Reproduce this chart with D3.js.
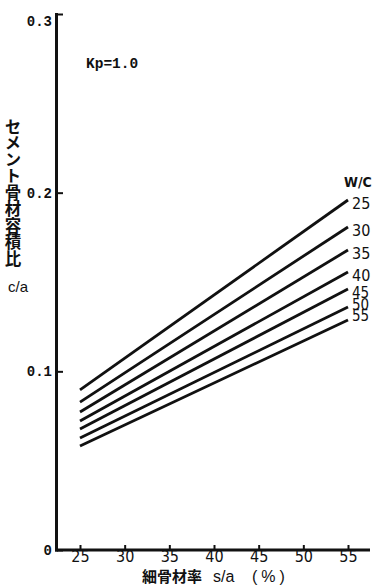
<!DOCTYPE html>
<html>
<head>
<meta charset="utf-8">
<script src="https://cdn.jsdelivr.net/npm/d3@7"></script>
<style>
  html, body { margin: 0; padding: 0; background: #fff; }
  svg { display: block; }
  .num { font-family: "Liberation Sans Narrow", "DejaVu Sans Condensed", "Liberation Sans", sans-serif; }
  .mono { font-family: "Liberation Mono", "DejaVu Sans Mono", monospace; }
  .sans { font-family: "Liberation Sans", Arial, sans-serif; }
  .jp { font-family: "Noto Sans CJK JP", sans-serif; font-weight: 700; }
</style>
</head>
<body>
<svg id="chart" width="372" height="585"></svg>
<script>
// fine aggregate ratio s/a (%) -- x values of each line
const saValues = [25, 55];
// W/C series (labels at right end)
const wcLevels = [25, 30, 35, 40, 45, 50, 55];
// c/a read at s/a = 25 and s/a = 55
const caAt25 = [0.0896, 0.0828, 0.0772, 0.0722, 0.0677, 0.0627, 0.0582];
const caAt55 = [0.1959, 0.1808, 0.1679, 0.1556, 0.1461, 0.1360, 0.1287];
// axis ticks
const xTicks = [25, 30, 35, 40, 45, 50, 55];
const yTicks = [0, 0.1, 0.2, 0.3];

const svg = d3.select('#chart');
const ink = '#111';

const x = d3.scaleLinear().domain([25, 55]).range([80, 348]);
const y = d3.scaleLinear().domain([0, 0.3]).range([550, 14]);

// axis lines (thick, like the print)
svg.append('line')
  .attr('x1', 56.5).attr('x2', 56.5).attr('y1', 13).attr('y2', 551.5)
  .attr('stroke', ink).attr('stroke-width', 3);
svg.append('line')
  .attr('x1', 55).attr('x2', 370).attr('y1', 550).attr('y2', 550)
  .attr('stroke', ink).attr('stroke-width', 3);

// y axis: ticks pointing inward, labels left
const yAxis = svg.append('g')
  .attr('transform', 'translate(57,0)')
  .call(d3.axisLeft(y).tickValues(yTicks).tickSizeInner(-6).tickSizeOuter(0).tickPadding(5)
    .tickFormat(d => d === 0 ? '0' : d3.format('.1f')(d)));
yAxis.select('.domain').remove();
yAxis.selectAll('.tick line').attr('stroke', ink).attr('stroke-width', 2);
yAxis.selectAll('.tick text')
  .attr('class', 'mono').attr('fill', ink)
  .style('font-size', '14px').style('font-weight', 700);
yAxis.selectAll('.tick').filter(d => d === 0.3).select('text').attr('dy', '0.85em');

// x axis: small upward ticks, labels below
const xAxis = svg.append('g')
  .attr('transform', 'translate(0,550)')
  .call(d3.axisBottom(x).tickValues(xTicks).tickSizeInner(-5).tickSizeOuter(0).tickPadding(1));
xAxis.select('.domain').remove();
xAxis.selectAll('.tick line').attr('stroke', ink).attr('stroke-width', 2);
xAxis.selectAll('.tick text')
  .attr('class', 'num').attr('fill', ink)
  .style('font-size', '16px');

// W/C lines
const line = d3.line().x(d => x(d.sa)).y(d => y(d.ca));
const series = wcLevels.map((wc, i) => ({
  wc,
  pts: saValues.map((sa, j) => ({ sa, ca: j === 0 ? caAt25[i] : caAt55[i] }))
}));

svg.append('g').selectAll('path')
  .data(series)
  .join('path')
  .attr('d', d => line(d.pts))
  .attr('fill', 'none')
  .attr('stroke', ink)
  .attr('stroke-width', 2.8);

// right-hand labels (the lower ones are packed tightly, as in the print)
const labelNudge = [3, 3, 3, 3, 4, -2, -4];
svg.append('g').selectAll('text')
  .data(series)
  .join('text')
  .attr('class', 'num')
  .attr('x', x(55) + 4)
  .attr('y', (d, i) => y(d.pts[1].ca) + labelNudge[i])
  .attr('dy', '0.35em')
  .attr('fill', ink)
  .style('font-size', (d, i) => i >= 4 ? '15px' : '16px')
  .text(d => d.wc);

svg.append('text')
  .attr('class', 'num')
  .attr('x', 344).attr('y', 182).attr('dy', '0.35em')
  .attr('fill', ink).style('font-size', '14px').style('font-weight', 700)
  .text('W/C');

svg.append('text')
  .attr('class', 'mono')
  .attr('x', 86).attr('y', 63).attr('dy', '0.35em')
  .attr('fill', ink).style('font-size', '14.5px').style('font-weight', 700)
  .text('Kp=1.0');

// y axis title (vertical Japanese) and c/a
svg.append('text')
  .attr('class', 'jp')
  .attr('x', 13).attr('y', 118)
  .attr('fill', ink)
  .style('font-size', '16.5px')
  .style('writing-mode', 'vertical-rl')
  .style('text-orientation', 'upright')
  .text('セメント骨材容積比');

svg.append('text')
  .attr('class', 'sans')
  .attr('x', 8).attr('y', 287).attr('dy', '0.35em')
  .attr('fill', ink).style('font-size', '15px')
  .text('c/a');

// x axis title
const xt = svg.append('text').attr('y', 582).attr('fill', ink);
xt.append('tspan').attr('class', 'jp').attr('x', 142).style('font-size', '15px').text('細骨材率');
xt.append('tspan').attr('class', 'sans').attr('x', 213).style('font-size', '16px').text('s/a');
xt.append('tspan').attr('class', 'sans').attr('x', 252).style('font-size', '16px')
  .style('letter-spacing', '4px').text('(%)');
</script>
</body>
</html>
